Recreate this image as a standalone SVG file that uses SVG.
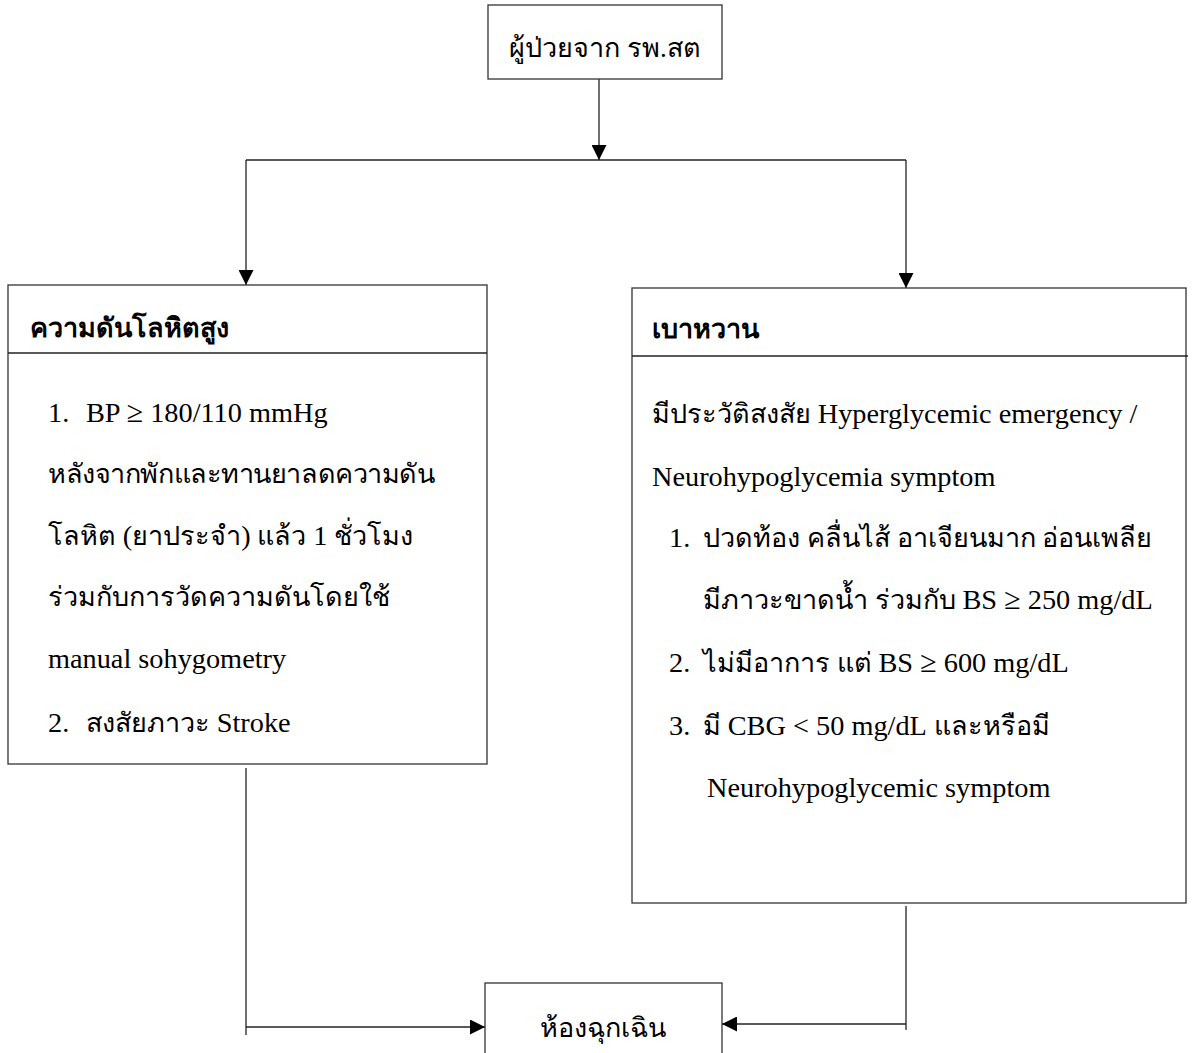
<svg xmlns="http://www.w3.org/2000/svg" width="1192" height="1053" viewBox="0 0 1192 1053">
<defs>
<marker id="ah" markerUnits="userSpaceOnUse" markerWidth="15" markerHeight="15" viewBox="0 0 10 10" refX="10" refY="5" orient="auto">
<path d="M0,0 L10,5 L0,10 z" fill="#000"/>
</marker>
<style>
.box{fill:#fff;stroke:#333;stroke-width:1.3}
.ln{fill:none;stroke:#222;stroke-width:1.3}
.t{font-family:"Liberation Serif","Times New Roman",serif;font-size:27px;fill:#000}
.h{font-family:"Liberation Serif","Times New Roman",serif;font-size:27px;font-weight:bold;fill:#000}
.l{font-size:28.3px}
.g{font-size:30px}
</style>
</defs>
<rect width="1192" height="1053" fill="#fff"/>
<g id="connectors">
<line class="ln" x1="599" y1="79" x2="599" y2="160" marker-end="url(#ah)"/>
<polyline class="ln" points="246,160 906,160"/>
<line class="ln" x1="246" y1="160" x2="246" y2="285" marker-end="url(#ah)"/>
<line class="ln" x1="906" y1="160" x2="906" y2="288" marker-end="url(#ah)"/>
<polyline class="ln" points="246,768 246,1035"/>
<line class="ln" x1="246" y1="1027" x2="485" y2="1027" marker-end="url(#ah)"/>
<polyline class="ln" points="906,906 906,1030"/>
<line class="ln" x1="906" y1="1024" x2="722" y2="1024" marker-end="url(#ah)"/>
</g>
<g id="start">
<rect class="box" x="488" y="5" width="234" height="74"/>
<text class="t" x="605" y="57" text-anchor="middle">ผู้ป่วยจาก รพ.สต</text>
</g>
<g id="hypertension">
<rect class="box" x="8" y="285" width="479" height="479"/>
<line class="ln" x1="8" y1="353" x2="487" y2="353"/>
<text class="h" x="30" y="337">ความดันโลหิตสูง</text>
<text class="t l" x="48" y="422">1.<tspan x="86">BP <tspan class="g">≥</tspan> 180/110 mmHg</tspan></text>
<text class="t" x="48" y="483" textLength="387">หลังจากพักและทานยาลดความดัน</text>
<text class="t" x="48" y="545">โลหิต <tspan class="l">(</tspan>ยาประจำ<tspan class="l">)</tspan> แล้ว <tspan class="l">1</tspan> ชั่วโมง</text>
<text class="t" x="48" y="606">ร่วมกับการวัดความดันโดยใช้</text>
<text class="t l" x="48" y="668">manual sohygometry</text>
<text class="t" x="48" y="732"><tspan class="l">2.</tspan><tspan x="86">สงสัยภาวะ <tspan class="l">Stroke</tspan></tspan></text>
</g>
<g id="diabetes">
<rect class="box" x="632" y="288" width="554" height="615"/>
<line class="ln" x1="632" y1="356" x2="1188" y2="356"/>
<text class="h" x="652" y="338">เบาหวาน</text>
<text class="t" x="652" y="423">มีประวัติสงสัย <tspan class="l">Hyperglycemic emergency /</tspan></text>
<text class="t l" x="652" y="486">Neurohypoglycemia symptom</text>
<text class="t" x="669" y="547"><tspan class="l">1.</tspan><tspan x="703">ปวดท้อง คลื่นไส้ อาเจียนมาก อ่อนเพลีย</tspan></text>
<text class="t" x="703" y="609">มีภาวะขาดน้ำ ร่วมกับ <tspan class="l">BS <tspan class="g">≥</tspan> 250 mg/dL</tspan></text>
<text class="t" x="669" y="672"><tspan class="l">2.</tspan><tspan x="703">ไม่มีอาการ แต่ <tspan class="l">BS <tspan class="g">≥</tspan> 600 mg/dL</tspan></tspan></text>
<text class="t" x="669" y="735"><tspan class="l">3.</tspan><tspan x="703">มี <tspan class="l">CBG &lt; 50 mg/dL</tspan> และหรือมี</tspan></text>
<text class="t l" x="707" y="797">Neurohypoglycemic symptom</text>
</g>
<g id="er">
<rect class="box" x="485" y="983" width="237" height="80"/>
<text class="t" x="603" y="1037" text-anchor="middle">ห้องฉุกเฉิน</text>
</g>
</svg>
